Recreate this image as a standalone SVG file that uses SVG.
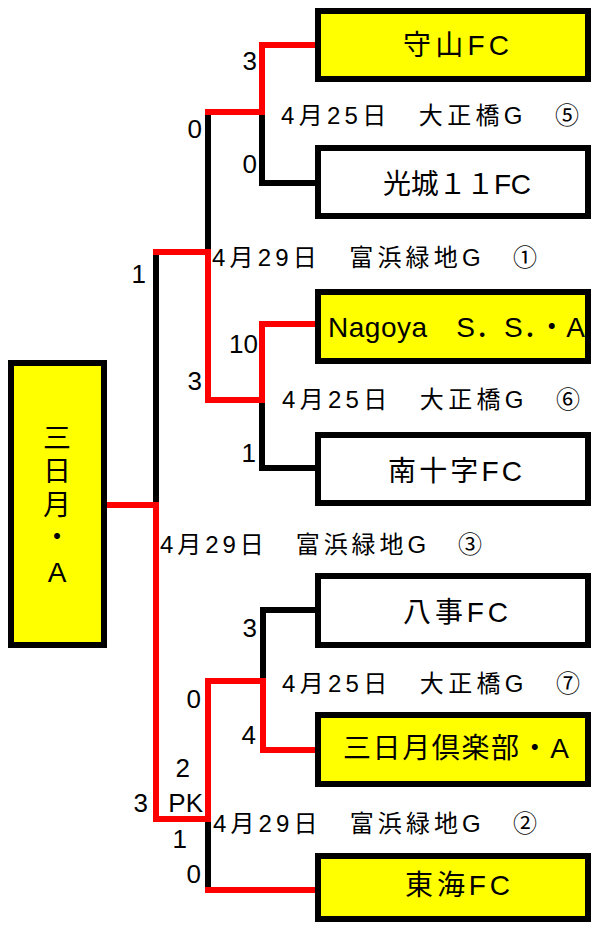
<svg xmlns="http://www.w3.org/2000/svg" width="592" height="925" viewBox="0 0 592 925">
<style>
text{font-family:"Liberation Sans","Noto Sans CJK JP",sans-serif;fill:#000}
.box{stroke:#000;stroke-width:6}
.win{fill:#ffff00}
.lose{fill:#fff}
.name{font-size:28px}
.date{font-size:24px}
.score{font-size:26px;text-anchor:end}
.bk{fill:none;stroke:#000;stroke-width:6;stroke-linejoin:miter}
.rd{fill:none;stroke:#ff0000;stroke-width:6;stroke-linejoin:miter}
</style>
<rect width="592" height="925" fill="#fff"/>
<g id="connectors">
<path class="bk" d="M262,112 V183 H318"/>
<path class="bk" d="M208,112 V252"/>
<path class="bk" d="M156,252 V505"/>
<path class="bk" d="M262,400 V468 H318"/>
<path class="bk" d="M263,681 V610 H318"/>
<path class="bk" d="M208,819 V890"/>
<path class="rd" d="M318,45 H262 V112 H205"/>
<path class="rd" d="M153,252 H208 V400 H262 V324 H318"/>
<path class="rd" d="M104,505 H156 V819 H208 V681 H263 V750 H318"/>
<path class="rd" d="M205,890 H318"/>
</g>
<g id="team-mikazuki">
<rect class="box win" x="11" y="363" width="93" height="282"/>
<text style="font-size:28px" text-anchor="middle"><tspan x="57" y="448">三</tspan><tspan x="57" y="481">日</tspan><tspan x="57" y="515">月</tspan><tspan x="57" y="547">・</tspan><tspan x="57" y="582">A</tspan></text>
</g>
<g id="team-moriyama">
<rect class="box win" x="318" y="11" width="270" height="68"/>
<text class="name" x="403" y="55" textLength="106" lengthAdjust="spacing">守山FC</text>
</g>
<g id="team-koujou">
<rect class="box lose" x="318" y="148" width="270" height="68"/>
<text class="name" x="383" y="194" textLength="148" lengthAdjust="spacing">光城１１FC</text>
</g>
<g id="team-nagoya">
<rect class="box win" x="318" y="292" width="270" height="69"/>
<text class="name" x="328" y="337" textLength="257" lengthAdjust="spacing">Nagoya　S．S．・A</text>
</g>
<g id="team-minamijuji">
<rect class="box lose" x="318" y="435" width="270" height="68"/>
<text class="name" x="388" y="481" textLength="134" lengthAdjust="spacing">南十字FC</text>
</g>
<g id="team-yagoto">
<rect class="box lose" x="318" y="576" width="270" height="69"/>
<text class="name" x="403" y="622" textLength="105" lengthAdjust="spacing">八事FC</text>
</g>
<g id="team-mikazuki-club">
<rect class="box win" x="318" y="715" width="270" height="69"/>
<text class="name" x="343" y="758" textLength="226" lengthAdjust="spacing">三日月倶楽部・A</text>
</g>
<g id="team-tokai">
<rect class="box win" x="318" y="856" width="270" height="63"/>
<text class="name" x="405" y="895" textLength="105" lengthAdjust="spacing">東海FC</text>
</g>
<g id="dates">
<text class="date" x="281" y="124" textLength="298" lengthAdjust="spacing">4月25日　大正橋G　⑤</text>
<text class="date" x="212" y="266" textLength="325" lengthAdjust="spacing">4月29日　富浜緑地G　①</text>
<text class="date" x="282" y="408" textLength="298" lengthAdjust="spacing">4月25日　大正橋G　⑥</text>
<text class="date" x="160" y="553" textLength="322" lengthAdjust="spacing">4月29日　富浜緑地G　③</text>
<text class="date" x="282" y="692" textLength="298" lengthAdjust="spacing">4月25日　大正橋G　⑦</text>
<text class="date" x="213" y="832" textLength="324" lengthAdjust="spacing">4月29日　富浜緑地G　②</text>
</g>
<g id="scores">
<text class="score" x="257" y="70">3</text>
<text class="score" x="202" y="138">0</text>
<text class="score" x="257" y="173">0</text>
<text class="score" x="146" y="283">1</text>
<text class="score" x="258" y="353">10</text>
<text class="score" x="202" y="390">3</text>
<text class="score" x="256" y="462">1</text>
<text class="score" x="257" y="637">3</text>
<text class="score" x="201" y="708">0</text>
<text class="score" x="256" y="744">4</text>
<text class="score" x="190" y="777">2</text>
<text class="score" x="148" y="812">3</text>
<text class="score" x="203" y="812">PK</text>
<text class="score" x="187" y="848">1</text>
<text class="score" x="201" y="883">0</text>
</g>
</svg>
